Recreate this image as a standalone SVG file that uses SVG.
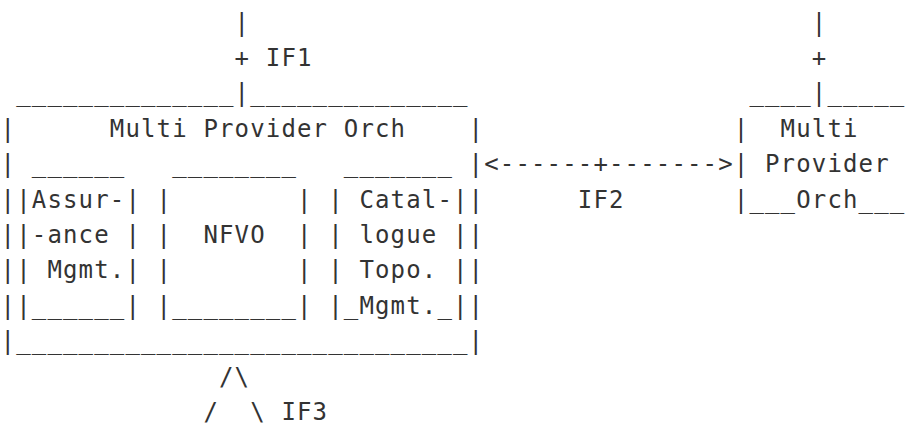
<svg xmlns="http://www.w3.org/2000/svg" width="911" height="426" viewBox="0 0 911 426">
<style>
text{font-family:"DejaVu Sans Mono","Liberation Mono",monospace;font-size:24px;letter-spacing:1.15px;fill:#333;white-space:pre}
</style>
<rect width="911" height="426" fill="#fff"/>
<g id="connectors">
<text x="234.6" y="30.5">|</text>
<text x="234.6" y="65.9">+</text>
<text x="265.8" y="65.9">IF1</text>
<text x="234.6" y="101.3">|</text>
<text x="811.8" y="30.5">|</text>
<text x="811.8" y="65.9">+</text>
<text x="811.8" y="101.3">|</text>
<text x="484.2" y="172.1">&lt;------+-------&gt;</text>
<text x="577.8" y="207.5">IF2</text>
<text x="219.0" y="384.5">/\</text>
<text x="203.4" y="419.9">/</text>
<text x="250.2" y="419.9">\</text>
<text x="281.4" y="419.9">IF3</text>
</g>
<g id="multi-provider-orch-left">
<text x="16.2" y="101.3">______________</text>
<text x="250.2" y="101.3">______________</text>
<text x="0.6" y="136.7">|</text>
<text x="109.8" y="136.7">Multi Provider Orch</text>
<text x="468.6" y="136.7">|</text>
<text x="0.6" y="172.1">|</text>
<text x="468.6" y="172.1">|</text>
<text x="0.6" y="207.5">|</text>
<text x="468.6" y="207.5">|</text>
<text x="0.6" y="242.9">|</text>
<text x="468.6" y="242.9">|</text>
<text x="0.6" y="278.3">|</text>
<text x="468.6" y="278.3">|</text>
<text x="0.6" y="313.7">|</text>
<text x="468.6" y="313.7">|</text>
<text x="0.6" y="349.1">|_____________________________|</text>
</g>
<g id="assurance-mgmt">
<text x="31.8" y="172.1">______</text>
<text x="16.2" y="207.5">|Assur-|</text>
<text x="16.2" y="242.9">|-ance |</text>
<text x="16.2" y="278.3">| Mgmt.|</text>
<text x="16.2" y="313.7">|______|</text>
</g>
<g id="nfvo">
<text x="172.2" y="172.1">________</text>
<text x="156.6" y="207.5">|</text>
<text x="297.0" y="207.5">|</text>
<text x="156.6" y="242.9">|</text>
<text x="203.4" y="242.9">NFVO</text>
<text x="297.0" y="242.9">|</text>
<text x="156.6" y="278.3">|</text>
<text x="297.0" y="278.3">|</text>
<text x="156.6" y="313.7">|________|</text>
</g>
<g id="catalogue-topo-mgmt">
<text x="343.8" y="172.1">_______</text>
<text x="328.2" y="207.5">| Catal-|</text>
<text x="328.2" y="242.9">| logue |</text>
<text x="328.2" y="278.3">| Topo. |</text>
<text x="328.2" y="313.7">|_Mgmt._|</text>
</g>
<g id="multi-provider-orch-right">
<text x="749.4" y="101.3">____</text>
<text x="827.4" y="101.3">_____</text>
<text x="733.8" y="136.7">|</text>
<text x="780.6" y="136.7">Multi</text>
<text x="733.8" y="172.1">|</text>
<text x="765.0" y="172.1">Provider</text>
<text x="733.8" y="207.5">|___Orch___</text>
</g>
</svg>
